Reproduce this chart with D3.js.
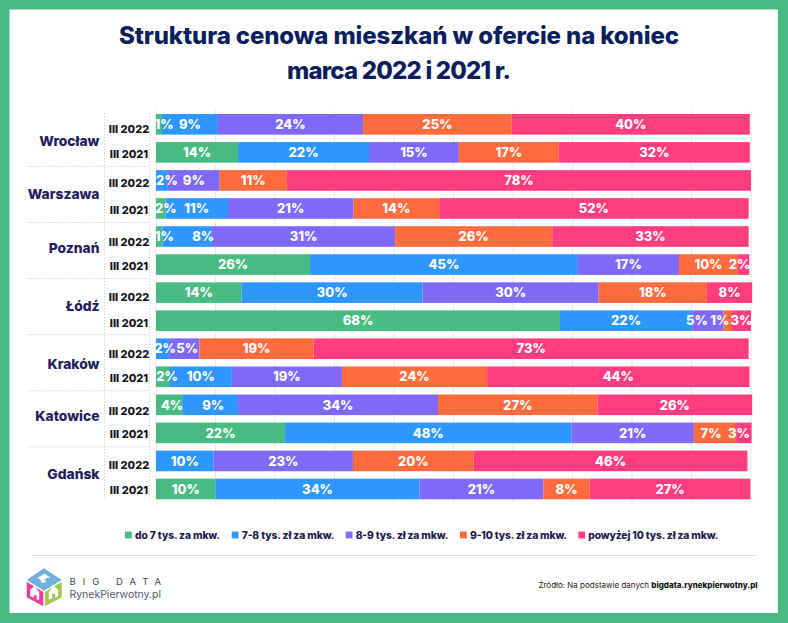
<!DOCTYPE html>
<html lang="pl">
<head>
<meta charset="utf-8">
<title>Struktura cenowa mieszkań</title>
<script src="https://d3js.org/d3.v7.min.js"></script>
<style>
  html, body { margin: 0; padding: 0; background: #fff; }
  svg { display: block; }
  text { font-family: Inter, "Noto Sans", sans-serif; }
</style>
</head>
<body>
<script>
// Data, two rows per city (III 2022, III 2021)
var cities = ["Wrocław", "Warszawa", "Poznań", "Łódź", "Kraków", "Katowice", "Gdańsk"];
var periods = ["III 2022", "III 2021"];
var seriesNames = ["do 7 tys. za mkw.", "7-8 tys. zł za mkw.", "8-9 tys. zł za mkw.", "9-10 tys. zł za mkw.", "powyżej 10 tys. zł za mkw."];
var seriesColors = ["#48BB83", "#2E96FF", "#8069F8", "#FF6B3D", "#FF3D7F"];

var upTo7 = [1.0, 13.8, 0, 1.6, 1.1, 25.9, 14.4, 67.9, 0, 2.35, 4.4, 21.7, 0, 10.0];
var from7to8 = [9.4, 22.0, 2.0, 10.5, 8.3, 45.0, 30.4, 22.2, 2.2, 10.4, 9.4, 48.1, 9.7, 34.3];
var from8to9 = [24.4, 15.1, 8.7, 21.1, 30.8, 17.0, 29.6, 5.3, 5.1, 18.5, 33.6, 20.6, 23.4, 20.8];
var from9to10 = [25.0, 16.8, 11.3, 14.4, 26.4, 9.9, 18.2, 1.4, 19.2, 24.4, 26.8, 7.1, 20.3, 7.8];
var over10 = [40.0, 32.1, 78.0, 52.0, 33.0, 1.9, 7.6, 3.2, 73.1, 44.1, 26.0, 2.6, 46.0, 27.0];

var seriesValues = [upTo7, from7to8, from8to9, from9to10, over10];

// Build the table for d3.stack
var rows = [];
cities.forEach(function(city, c) {
  periods.forEach(function(period, p) {
    var row = {id: c * 2 + p, city: city, period: period};
    seriesValues.forEach(function(values, s) { row[s] = values[c * 2 + p]; });
    rows.push(row);
  });
});

var width = 788, height = 623;
var svg = d3.select("body").append("svg").attr("width", width).attr("height", height);

// Frame
svg.append("rect").attr("width", width).attr("height", height).attr("fill", "#48BB83");
svg.append("rect").attr("x", 9.5).attr("y", 9.5).attr("width", 768.5).attr("height", 603.5).attr("fill", "#fff");

// Title
var titleLines = ["Struktura cenowa mieszkań w ofercie na koniec", "marca 2022 i 2021 r."];
var titleWidths = [560, 224];
svg.selectAll(".title").data(titleLines).join("text")
  .attr("class", "title")
  .attr("x", 399)
  .attr("y", function(d, i) { return 44 + i * 35; })
  .attr("text-anchor", "middle")
  .attr("font-size", 24)
  .attr("font-weight", 800)
  .attr("fill", "#0B1F5C")
  .attr("textLength", function(d, i) { return titleWidths[i]; })
  .text(function(d) { return d; });

// Scales
var x = d3.scaleLinear().domain([0, 100]).range([156, 751]);
var y = d3.scaleBand().domain(rows.map(function(d) { return d.id; }))
  .range([110.3, 503]).paddingInner(0.265).paddingOuter(0.1325);

// Gridlines
svg.append("g").selectAll("line").data(x.ticks(10)).join("line")
  .attr("x1", function(d) { return x(d); })
  .attr("x2", function(d) { return x(d); })
  .attr("y1", 110).attr("y2", 503)
  .attr("stroke", "#e9e9e9");

// Dashed dividers of the label columns
svg.append("g").selectAll("line").data([104.5, 149.5]).join("line")
  .attr("x1", function(d) { return d; })
  .attr("x2", function(d) { return d; })
  .attr("y1", 113).attr("y2", 499)
  .attr("stroke", "#d4d4d8")
  .attr("stroke-dasharray", "1.5 1.5");

svg.append("g").selectAll("line").data(cities.slice(1)).join("line")
  .attr("x1", 27).attr("x2", 148)
  .attr("y1", function(d, i) { return y(i * 2 + 2) - (y.step() - y.bandwidth()) / 2; })
  .attr("y2", function(d, i) { return y(i * 2 + 2) - (y.step() - y.bandwidth()) / 2; })
  .attr("stroke", "#d4d4d8")
  .attr("stroke-dasharray", "1.5 1.5");

// Stacked bars
var stack = d3.stack().keys(d3.range(seriesNames.length));
var layers = stack(rows);

var layer = svg.append("g").selectAll("g").data(layers).join("g")
  .attr("fill", function(d, i) { return seriesColors[i]; });

layer.selectAll("rect").data(function(d) { return d; }).join("rect")
  .attr("x", function(d) { return x(d[0]); })
  .attr("y", function(d) { return y(d.data.id); })
  .attr("width", function(d) { return x(d[1]) - x(d[0]); })
  .attr("height", y.bandwidth());

// Labels of narrow segments sit off-centre in the original ("row-series": px)
var labelNudge = {
  "0-0": 5, "2-1": 5, "3-0": 5, "4-0": 5, "4-1": 16, "5-4": -4,
  "7-2": -11, "7-3": -8, "8-1": 2.5, "8-2": 3, "9-0": 4,
  "10-0": 3, "10-1": 3, "11-3": -4, "11-4": -5
};

layers.forEach(function(series, s) {
  svg.append("g").selectAll("text")
    .data(series.filter(function(d) { return d[1] - d[0] > 0; }))
    .join("text")
    .attr("x", function(d) { return (x(d[0]) + x(d[1])) / 2 + (labelNudge[d.data.id + "-" + s] || 0); })
    .attr("y", function(d) { return y(d.data.id) + y.bandwidth() / 2; })
    .attr("dy", "0.36em")
    .attr("text-anchor", "middle")
    .attr("font-size", 13)
    .attr("font-weight", 800)
    .attr("fill", "#fff")
    .text(function(d) { return Math.round(d[1] - d[0]) + "%"; });
});

// Period labels, each a little lower than its bar
var periodNudge = [5, 2, 3, 2, 5.5, 1.5, 4, 2, 5.5, 1, 6.5, 1.5, 4.5, 1.5];
svg.append("g").selectAll("text").data(rows).join("text")
  .attr("x", 129)
  .attr("y", function(d) { return y(d.id) + y.bandwidth() / 2 + periodNudge[d.id]; })
  .attr("dy", "0.36em")
  .attr("text-anchor", "middle")
  .attr("font-size", 11)
  .attr("font-weight", 800)
  .attr("fill", "#141420")
  .text(function(d) { return d.period; });

// City labels
var cityNudge = [2.7, 0, -3, -1, 1.3, -3, -1];
svg.append("g").selectAll("text").data(cities).join("text")
  .attr("x", 99.5)
  .attr("y", function(d, i) { return y(i * 2) + (y.step() + y.bandwidth()) / 2 + cityNudge[i]; })
  .attr("dy", "0.36em")
  .attr("text-anchor", "end")
  .attr("font-size", 13.8)
  .attr("font-weight", 800)
  .attr("fill", "#241C5C")
  .text(function(d) { return d; });

// Legend
var legendX = [125, 231.7, 345.7, 460, 578.3];
var legendW = [85, 92.7, 92.6, 97, 130];
var legend = svg.append("g").selectAll("g").data(seriesNames).join("g")
  .attr("transform", function(d, i) { return "translate(" + legendX[i] + ",535)"; });
legend.append("rect")
  .attr("y", -3.4).attr("width", 6.8).attr("height", 6.8)
  .attr("fill", function(d, i) { return seriesColors[i]; });
legend.append("text")
  .attr("x", 10)
  .attr("dy", "0.36em")
  .attr("font-size", 10.3)
  .attr("font-weight", 800)
  .attr("fill", "#1E1A4D")
  .attr("textLength", function(d, i) { return legendW[i]; })
  .text(function(d) { return d; });

svg.append("line")
  .attr("x1", 32).attr("x2", 756).attr("y1", 555.5).attr("y2", 555.5)
  .attr("stroke", "#dedede");

// Logo cube
var logo = svg.append("g").attr("transform", "translate(26.7,568.3)");
logo.append("path").attr("d", "M17.3 0L35 11.7L17.3 22.4L0 11.7Z").attr("fill", "#6DB0DC");
logo.append("path").attr("d", "M0 13.5L16.6 23.6V38L0 29Z").attr("fill", "#E63F9B");
logo.append("path").attr("d", "M18.2 23.6L35 13.5V29L18.2 38Z").attr("fill", "#A1C84C");
logo.append("path").attr("d", "M11 9.5L18 5.5L24 9.5H21L17.5 11.5L20 13.5L15 15L14 12Z").attr("fill", "#fff");
logo.append("path").attr("d", "M3.5 28V21.5L8 17.5L12.5 24V31.5H10V27H7V29.5Z").attr("fill", "#fff");
logo.append("path").attr("d", "M22 31.5V24L27 17.5L31.5 21.5V28L28.5 29.5V25.5H25.5V30Z").attr("fill", "#fff");

svg.append("text")
  .attr("x", 69.5).attr("y", 584.5)
  .attr("font-size", 9.5)
  .attr("fill", "#3F4658")
  .attr("textLength", 91.5)
  .text("BIG DATA");
svg.append("text")
  .attr("x", 69.5).attr("y", 597.5)
  .attr("font-size", 10.5)
  .attr("fill", "#555B6B")
  .attr("textLength", 91.5)
  .text("RynekPierwotny.pl");

// Source
var source = svg.append("text")
  .attr("x", 757.5).attr("y", 587.5)
  .attr("text-anchor", "end")
  .attr("font-size", 8)
  .attr("fill", "#222");
source.append("tspan").text("Źródło: Na podstawie danych ");
source.append("tspan").attr("font-weight", 800).attr("fill", "#111").text("bigdata.rynekpierwotny.pl");
</script>
</body>
</html>
